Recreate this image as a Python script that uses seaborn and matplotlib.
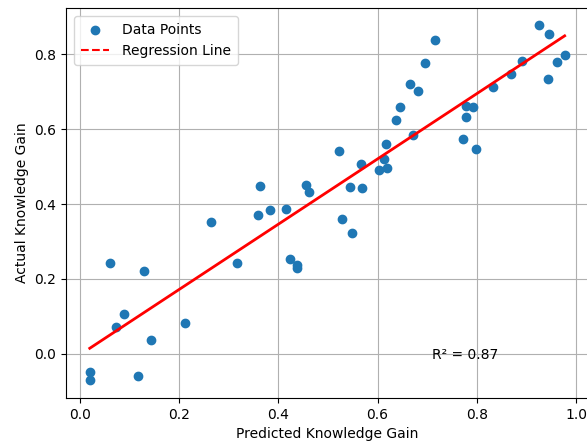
import numpy as np
import matplotlib
matplotlib.use("Agg")
import matplotlib.pyplot as plt
from matplotlib.lines import Line2D
import seaborn as sns

predicted = [0.020, 0.020, 0.060, 0.072, 0.089, 0.118, 0.129, 0.143, 0.211, 0.265,
             0.316, 0.360, 0.364, 0.384, 0.415, 0.423, 0.437, 0.437, 0.456, 0.462,
             0.522, 0.528, 0.545, 0.549, 0.567, 0.568, 0.603, 0.612, 0.618, 0.617,
             0.638, 0.645, 0.665, 0.671, 0.681, 0.696, 0.716, 0.773, 0.778, 0.778,
             0.792, 0.798, 0.832, 0.869, 0.892, 0.926, 0.945, 0.943, 0.962, 0.977]
actual = [-0.047, -0.070, 0.243, 0.071, 0.107, -0.059, 0.220, 0.037, 0.082, 0.352,
          0.243, 0.370, 0.448, 0.383, 0.386, 0.253, 0.237, 0.230, 0.451, 0.431,
          0.541, 0.359, 0.446, 0.322, 0.508, 0.443, 0.491, 0.519, 0.496, 0.561,
          0.624, 0.659, 0.719, 0.583, 0.702, 0.775, 0.837, 0.573, 0.631, 0.661,
          0.659, 0.547, 0.712, 0.747, 0.781, 0.877, 0.853, 0.733, 0.778, 0.798]
r2_label = "R² = 0.87"

x = np.array(predicted)
y = np.array(actual)
slope, intercept = np.polyfit(x, y, 1)
xs = np.sort(x)
ys = slope * xs + intercept

fig = plt.figure(figsize=(5.87, 4.44), dpi=100)
ax = fig.add_axes([66 / 587, 1 - 397.9 / 444, (588.4 - 66) / 587, (397.9 - 7.5) / 444])

sns.scatterplot(x=x, y=y, ax=ax, s=36, color='#1f77b4', edgecolor='#1f77b4',
                linewidth=1, label='Data Points', legend=False, zorder=2)
ax.plot(xs, ys, color='red', linewidth=2, zorder=3)

scat = ax.collections[0]
handles = [scat, Line2D([], [], color='red', linestyle='--', linewidth=1.5)]
ax.legend(handles, ['Data Points', 'Regression Line'], loc='upper left',
          borderpad=0.5, handletextpad=0.9, borderaxespad=0.6)

ax.set_xlabel('Predicted Knowledge Gain')
ax.set_ylabel('Actual Knowledge Gain')
ax.grid(True, color='#b0b0b0', linewidth=0.8)
ax.set_axisbelow(True)
ax.text(0.7, 0.1, r2_label, transform=ax.transAxes, fontsize=10)

fig.savefig('out.png', dpi=100)
